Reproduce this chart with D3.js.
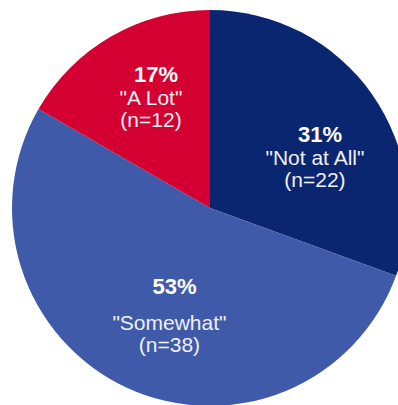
<!DOCTYPE html>
<html>
<head>
<meta charset="utf-8">
<script src="https://cdn.jsdelivr.net/npm/d3@7"></script>
<style>
  html, body { margin: 0; padding: 0; background: #fff; overflow: hidden; }
  svg { display: block; }
</style>
</head>
<body>
<div id="pie"></div>
<script>
// Data
const categories = ["Not at All", "Somewhat", "A Lot"];
const counts = [22, 38, 12];
const percents = ["31%", "53%", "17%"];
const colors = ["#0b2671", "#3f5aa8", "#d40032"];

// Dimensions
const width = 398;
const height = 405;
const cx = 210;
const cy = 208;
const radius = 198;

// small label nudges so text sits like the original
const nudge = {
  "Not at All": [5, 20, 0],
  "Somewhat": [11, 4, 13],
  "A Lot": [2, -4, 0]
};

const data = categories.map((c, i) => ({
  category: c, count: counts[i], pct: percents[i], color: colors[i]
}));

const pie = d3.pie()
  .value(d => d.count)
  .sort(null);

const arc = d3.arc()
  .innerRadius(0)
  .outerRadius(radius);

const labelArc = d3.arc()
  .innerRadius(122)
  .outerRadius(122);

const svg = d3.select("#pie")
  .append("svg")
    .attr("width", width)
    .attr("height", height);

const g = svg.append("g")
  .attr("transform", `translate(${cx}, ${cy})`);

const slices = pie(data);

g.selectAll("path")
  .data(slices)
  .join("path")
    .attr("d", arc)
    .attr("fill", d => d.data.color);

const labels = g.selectAll(".label")
  .data(slices)
  .join("g")
    .attr("class", "label")
    .attr("transform", d => {
      const [x, y] = labelArc.centroid(d);
      const n = nudge[d.data.category];
      return `translate(${x + n[0]}, ${y + n[1]})`;
    })
    .style("font-family", "'Liberation Sans', Arial, sans-serif")
    .attr("fill", "white")
    .attr("text-anchor", "middle");

labels.append("text")
  .attr("x", 5)
  .attr("y", d => -16 - nudge[d.data.category][2])
  .style("font-size", "22px")
  .style("font-weight", 700)
  .text(d => d.data.pct);

labels.append("text")
  .attr("y", 7)
  .style("font-size", "21px")
  .attr("fill", "#f0f0f5")
  .text(d => `"${d.data.category}"`);

labels.append("text")
  .attr("y", 29)
  .style("font-size", "21px")
  .attr("fill", "#f0f0f5")
  .text(d => `(n=${d.data.count})`);
</script>
</body>
</html>
